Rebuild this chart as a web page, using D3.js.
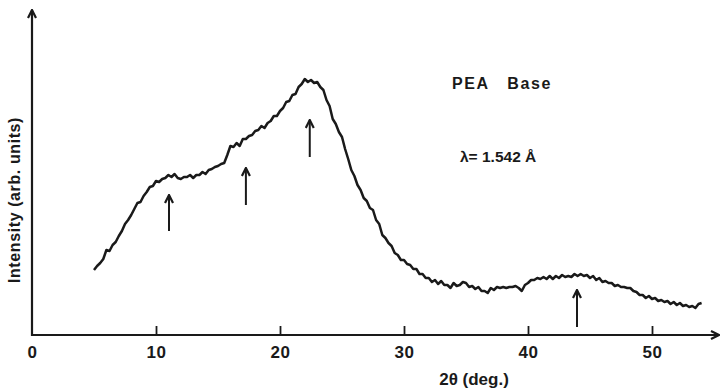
<!DOCTYPE html>
<html>
<head>
<meta charset="utf-8">
<script src="https://cdn.jsdelivr.net/npm/d3@7"></script>
<style>
  body { margin: 0; background: #fff; }
  svg { display: block; }
  text { font-family: "Liberation Sans", Arial, sans-serif; font-weight: bold; fill: #1a1a1a; }
</style>
</head>
<body>
<div id="chart"></div>
<script>
// 2theta (deg)
var twoTheta = [
  5.0, 5.25, 5.5, 5.75, 6.0, 6.25, 6.5, 6.75, 7.0, 7.25, 7.5, 7.75, 8.0, 8.25, 8.5, 8.75,
  9.0, 9.25, 9.5, 9.75, 10.0, 10.25, 10.5, 10.75, 11.0, 11.25, 11.5, 11.75, 12.0, 12.25, 12.5, 12.75,
  13.0, 13.25, 13.5, 13.75, 14.0, 14.25, 14.5, 14.75, 15.0, 15.25, 15.5, 15.75, 16.0, 16.25, 16.5, 16.75,
  17.0, 17.25, 17.5, 17.75, 18.0, 18.25, 18.5, 18.75, 19.0, 19.25, 19.5, 19.75, 20.0, 20.25, 20.5, 20.75,
  21.0, 21.25, 21.5, 21.75, 22.0, 22.25, 22.5, 22.75, 23.0, 23.25, 23.5, 23.75, 24.0, 24.25, 24.5, 24.75,
  25.0, 25.25, 25.5, 25.75, 26.0, 26.25, 26.5, 26.75, 27.0, 27.25, 27.5, 27.75, 28.0, 28.25, 28.5, 28.75,
  29.0, 29.25, 29.5, 29.75, 30.0, 30.25, 30.5, 30.75, 31.0, 31.25, 31.5, 31.75, 32.0, 32.25, 32.5, 32.75,
  33.0, 33.25, 33.5, 33.75, 34.0, 34.25, 34.5, 34.75, 35.0, 35.25, 35.5, 35.75, 36.0, 36.25, 36.5, 36.75,
  37.0, 37.25, 37.5, 37.75, 38.0, 38.25, 38.5, 38.75, 39.0, 39.25, 39.5, 39.75, 40.0, 40.25, 40.5, 40.75,
  41.0, 41.25, 41.5, 41.75, 42.0, 42.25, 42.5, 42.75, 43.0, 43.25, 43.5, 43.75, 44.0, 44.25, 44.5, 44.75,
  45.0, 45.25, 45.5, 45.75, 46.0, 46.25, 46.5, 46.75, 47.0, 47.25, 47.5, 47.75, 48.0, 48.25, 48.5, 48.75,
  49.0, 49.25, 49.5, 49.75, 50.0, 50.25, 50.5, 50.75, 51.0, 51.25, 51.5, 51.75, 52.0, 52.25, 52.5, 52.75,
  53.0, 53.25, 53.5, 53.75, 54.0
];
// intensity (arb. units)
var intensity = [
  65, 69, 72, 76, 85, 84, 90, 93, 99, 104, 111, 115, 120, 126, 132, 133,
  139, 143, 148, 149, 154, 153, 156, 157, 160, 158, 161, 157, 156, 158, 158, 160,
  157, 160, 160, 163, 161, 165, 166, 168, 169, 171, 172, 180, 189, 188, 192, 189,
  196, 196, 199, 200, 204, 205, 209, 207, 212, 214, 219, 219, 224, 227, 233, 234,
  240, 241, 248, 251, 256, 253, 255, 252, 253, 248, 245, 235, 229, 216, 211, 203,
  198, 186, 176, 165, 159, 150, 145, 137, 134, 127, 125, 115, 111, 100, 97, 92,
  89, 82, 80, 75, 75, 71, 70, 66, 66, 61, 61, 57, 57, 53, 55, 51,
  54, 50, 50, 47, 52, 49, 50, 53, 52, 48, 49, 46, 48, 44, 44, 42,
  47, 45, 48, 47, 48, 47, 48, 48, 49, 47, 44, 50, 52, 55, 55, 57,
  56, 58, 56, 59, 56, 59, 57, 60, 58, 59, 58, 61, 59, 61, 59, 60,
  57, 59, 55, 57, 53, 54, 52, 52, 49, 50, 48, 48, 47, 47, 44, 43,
  40, 40, 37, 39, 36, 37, 34, 35, 33, 34, 31, 33, 30, 32, 29, 30,
  28, 29, 27, 31, 32
];
var xTicks = [0, 10, 20, 30, 40, 50];
// peak markers: position, arrow tip, arrow tail (intensity units)
var markerPos  = [11.05, 17.25, 22.4, 43.95];
var markerTip  = [140, 167, 215, 45];
var markerTail = [104, 130, 178, 8];

var width = 721, height = 391;
var x0 = 32, xEnd = 719, yAxis = 335, yTop = 10;

var x = d3.scaleLinear().domain([0, 50]).range([x0, 652]);
var y = d3.scaleLinear().domain([0, 325]).range([yAxis, yTop]);

var svg = d3.select("#chart").append("svg")
    .attr("width", width)
    .attr("height", height);

var defs = svg.append("defs");
defs.append("marker")
    .attr("id", "head")
    .attr("viewBox", "0 0 10 10")
    .attr("refX", 9).attr("refY", 5)
    .attr("markerWidth", 10).attr("markerHeight", 10)
    .attr("markerUnits", "userSpaceOnUse")
    .attr("orient", "auto")
  .append("path")
    .attr("d", "M1,1 L9,5 L1,9")
    .attr("fill", "none")
    .attr("stroke", "#1a1a1a")
    .attr("stroke-width", 2.2);

// axes with arrow heads
svg.append("line")
    .attr("x1", x0).attr("y1", yAxis)
    .attr("x2", xEnd).attr("y2", yAxis)
    .attr("stroke", "#1a1a1a").attr("stroke-width", 2.2)
    .attr("marker-end", "url(#head)");
svg.append("line")
    .attr("x1", x0).attr("y1", yAxis + 1)
    .attr("x2", x0).attr("y2", yTop)
    .attr("stroke", "#1a1a1a").attr("stroke-width", 2.2)
    .attr("marker-end", "url(#head)");

var xAxis = d3.axisBottom(x).tickValues(xTicks).tickSize(0).tickPadding(0);
var gx = svg.append("g").attr("transform", "translate(0," + yAxis + ")").call(xAxis);
gx.select(".domain").remove();
gx.selectAll(".tick line")
    .attr("y2", -9)
    .attr("stroke", "#1a1a1a")
    .attr("stroke-width", 1.8)
    .filter(function(d) { return d === 0; }).remove();
gx.selectAll(".tick text")
    .attr("y", 23)
    .attr("dy", null)
    .attr("font-size", 17)
    .attr("font-family", "Liberation Sans, Arial, sans-serif")
    .attr("font-weight", "bold")
    .attr("letter-spacing", 0.5)
    .attr("fill", "#1a1a1a");

// trace
var pts = twoTheta.map(function(t, i) { return [t, intensity[i]]; });
var line = d3.line()
    .x(function(d) { return x(d[0]); })
    .y(function(d) { return y(d[1]); });
svg.append("path")
    .datum(pts)
    .attr("d", line)
    .attr("fill", "none")
    .attr("stroke", "#1a1a1a")
    .attr("stroke-width", 2.5)
    .attr("stroke-linejoin", "round");

// peak arrows
markerPos.forEach(function(p, i) {
  svg.append("line")
      .attr("x1", x(p)).attr("y1", y(markerTail[i]))
      .attr("x2", x(p)).attr("y2", y(markerTip[i]))
      .attr("stroke", "#1a1a1a").attr("stroke-width", 2)
      .attr("marker-end", "url(#head)");
});

// labels
svg.append("text")
    .attr("transform", "translate(20,200) rotate(-90)")
    .attr("text-anchor", "middle")
    .attr("font-size", 16)
    .attr("letter-spacing", 0.6)
    .text("Intensity (arb. units)");

svg.append("text")
    .attr("x", 474).attr("y", 385)
    .attr("text-anchor", "middle")
    .attr("font-size", 17)
    .text("2\u03B8 (deg.)");

svg.append("text")
    .attr("x", 452).attr("y", 89)
    .attr("font-size", 16)
    .attr("letter-spacing", 1.6)
    .style("white-space", "pre")
    .text("PEA   Base");

svg.append("text")
    .attr("x", 460).attr("y", 162)
    .attr("font-size", 15.5)
    .style("white-space", "pre")
    .text("\u03BB= 1.542 \u00C5");
</script>
</body>
</html>
